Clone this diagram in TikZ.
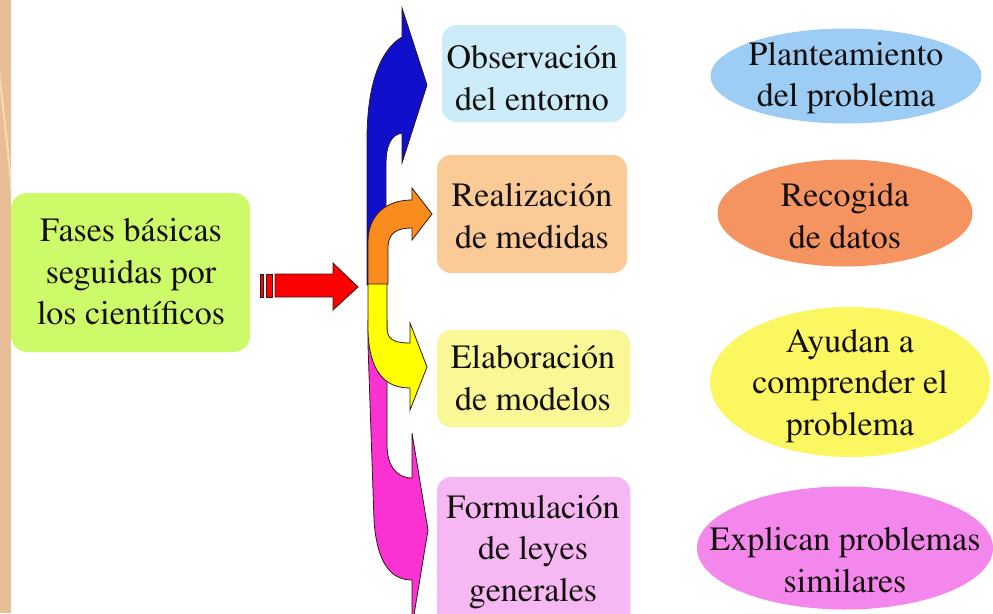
\documentclass[tikz,border=0pt]{standalone}
\usepackage[T1]{fontenc}
\usepackage{times}
\usetikzlibrary{shapes.geometric}
\definecolor{txt}{RGB}{20,15,15}
\definecolor{strip}{RGB}{232,190,150}
\definecolor{stripLight}{RGB}{247,218,178}
\definecolor{cGreen}{RGB}{204,250,104}
\definecolor{cObs}{RGB}{204,236,250}
\definecolor{cReal}{RGB}{251,203,151}
\definecolor{cElab}{RGB}{250,248,150}
\definecolor{cForm}{RGB}{246,184,242}
\definecolor{ePlan}{RGB}{157,204,245}
\definecolor{eRec}{RGB}{245,148,96}
\definecolor{eAyu}{RGB}{250,247,96}
\definecolor{eExp}{RGB}{244,135,236}
\definecolor{aBlue}{RGB}{16,16,204}
\definecolor{aOrange}{RGB}{250,140,30}
\definecolor{aYellow}{RGB}{255,255,0}
\definecolor{aMagenta}{RGB}{250,50,210}
\definecolor{aRed}{RGB}{255,0,0}
\definecolor{outl}{RGB}{50,25,25}
\tikzset{
  lbl/.style={font=\rmfamily\fontsize{34}{41.5}\selectfont, text=txt, align=center, inner sep=0pt},
  phasebox/.style={rounded corners=14pt, inner sep=0pt},
  oval/.style={ellipse, inner sep=0pt},
  shapearrow/.style={draw=outl, line width=0.8pt, line join=miter}
}
\begin{document}
\begin{tikzpicture}[x=1pt,y=-1pt]
\useasboundingbox (0,0) rectangle (993,613);
\clip (0,0) rectangle (993,613);
\fill[white] (0,0) rectangle (993,613);
% left strip
\fill[strip] (0,0) rectangle (11,613);
\fill[stripLight] (0,88) .. controls (4,125) and (8,160) .. (11,196) -- (11,172) .. controls (8,140) and (4,110) .. (0,70) -- cycle;

% boxes
\node[phasebox, fill=cGreen, rounded corners=16pt, minimum width=239pt, minimum height=159pt] (fases) at (130.5,272.5) {};
\node[lbl] (fasesT) at (131,272) {Fases básicas\\seguidas por\\los científicos};

\node[phasebox, fill=cObs, minimum width=184pt, minimum height=97pt] (obs) at (534,73.5) {};
\node[lbl] (obsT) at (532,78) {Observación\\del entorno};

\node[phasebox, fill=cReal, minimum width=190pt, minimum height=118pt] (real) at (532,214) {};
\node[lbl] (realT) at (532,216) {Realización\\de medidas};

\node[phasebox, fill=cElab, minimum width=193pt, minimum height=97pt] (elab) at (533.5,378.5) {};
\node[lbl] (elabT) at (533,378) {Elaboración\\de modelos};

\node[phasebox, fill=cForm, minimum width=193pt, minimum height=160pt] (form) at (533.5,557) {};
\node[lbl] (formT) at (533,552) {Formulación\\de leyes\\generales};

% ellipses
\node[oval, fill=ePlan, minimum width=271pt, minimum height=95pt] (plan) at (846,76) {};
\node[lbl] (planT) at (846,78) {Planteamiento\\del problema};

\node[oval, fill=eRec, minimum width=255pt, minimum height=107pt] (rec) at (845,213) {};
\node[lbl] (recT) at (845,216) {Recogida\\de datos};

\node[oval, fill=eAyu, minimum width=280pt, minimum height=150pt] (ayu) at (850,382) {};
\node[lbl] (ayuT) at (850,386) {Ayudan a\\comprender el\\problema};

\node[oval, fill=eExp, minimum width=296pt, minimum height=123pt] (exp) at (845,548) {};
\node[lbl] (expT) at (845,560) {Explican problemas\\similares};

% red striped arrow
\fill[aRed, draw=outl, line width=0.8pt] (260,274) rectangle (263,297);
\fill[aRed, draw=outl, line width=0.8pt] (266,274) rectangle (272,297);
\filldraw[shapearrow, fill=aRed] (275,274) -- (333,274) -- (333,263) -- (358,287) -- (333,310) -- (333,297) -- (275,297) -- cycle;

% blue curved arrow (up then right)
\filldraw[shapearrow, fill=aBlue] (367,285) -- (367,140) .. controls (367,85) and (380,50) .. (402,37) -- (402,8) -- (427,85) -- (402,163) -- (402,133) .. controls (391,135) and (386,145) .. (386,165) -- (386,285) -- cycle;
% magenta curved arrow (down then right)
\filldraw[shapearrow, fill=aMagenta] (368,320) -- (368,345) -- (374,520) .. controls (377,565) and (392,580) .. (412,580) -- (412,627) -- (428,530) -- (412,433) -- (412,478) .. controls (396,478) and (387,465) .. (387,445) -- (387,320) -- cycle;
% yellow curved arrow (down then right)
\filldraw[shapearrow, fill=aYellow] (368,283) -- (368,330) .. controls (369,372) and (385,388) .. (410,388) -- (410,410) -- (427,367) -- (410,323) -- (410,343) .. controls (395,343) and (387,340) .. (387,328) -- (387,283) -- cycle;
% orange curved arrow (up then right)
\filldraw[shapearrow, fill=aOrange] (368,284) -- (368,242) .. controls (368,215) and (386,200) .. (412,200) -- (412,188) -- (432,214) -- (412,240) -- (412,228) .. controls (398,228) and (388,232) .. (388,248) -- (388,284) -- cycle;
\end{tikzpicture}
\end{document}
